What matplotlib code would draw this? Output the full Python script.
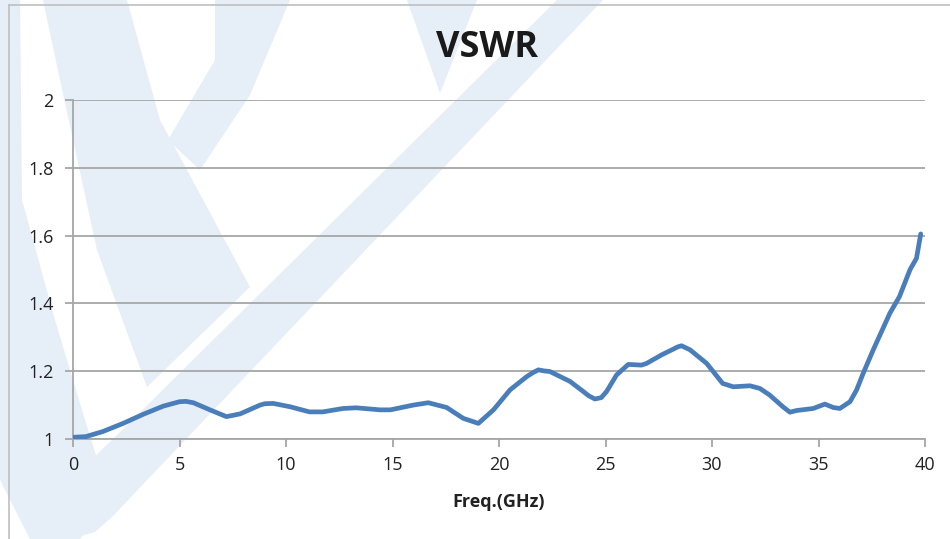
import matplotlib.pyplot as plt
from matplotlib.patches import Polygon
from matplotlib.lines import Line2D

# -----------------------------
# Data
# -----------------------------
freq = [0, 0.6, 1.4, 2.35, 3.3, 4.24, 5.0, 5.3, 5.65, 6.43, 7.2, 7.84,
        8.78, 9.0, 9.4, 10.2, 11.1, 11.73, 12.67, 13.3, 14.41, 14.9, 15.97,
        16.68, 17.54, 18.32, 19.03, 19.74, 20.52, 21.3, 21.6, 21.85, 22.1,
        22.39, 23.33, 23.96, 24.2, 24.5, 24.8, 25.05, 25.52, 26.07, 26.69,
        26.93, 27.63, 28.18, 28.4, 28.57, 28.97, 29.75, 30.5, 31.0, 31.78,
        32.25, 32.7, 33.33, 33.66, 33.97, 34.75, 35.3, 35.69, 36.0, 36.48,
        36.79, 37.1, 37.57, 38.35, 38.8, 39.3, 39.6, 39.8]
vswr = [1.005, 1.007, 1.022, 1.046, 1.073, 1.097, 1.11, 1.111, 1.107,
        1.086, 1.066, 1.074, 1.10, 1.104, 1.105, 1.095, 1.08, 1.08, 1.09,
        1.092, 1.086, 1.086, 1.10, 1.107, 1.093, 1.061, 1.046, 1.086, 1.145,
        1.184, 1.196, 1.204, 1.201, 1.199, 1.17, 1.14, 1.128, 1.118, 1.122,
        1.14, 1.189, 1.22, 1.218, 1.223, 1.248, 1.265, 1.272, 1.275, 1.263,
        1.223, 1.164, 1.154, 1.157, 1.149, 1.13, 1.095, 1.079, 1.084, 1.09,
        1.103, 1.093, 1.09, 1.11, 1.145, 1.194, 1.263, 1.371, 1.42, 1.5,
        1.533, 1.605]

x_ticks = [0, 5, 10, 15, 20, 25, 30, 35, 40]
y_ticks = [1, 1.2, 1.4, 1.6, 1.8, 2]
y_tick_labels = ["1", "1.2", "1.4", "1.6", "1.8", "2"]

# -----------------------------
# Figure
# -----------------------------
W, H = 950, 539
fig = plt.figure(figsize=(9.5, 5.39), dpi=100)
plt.rcParams['font.family'] = ['Open Sans', 'DejaVu Sans']


def px(pts):
    # pixel coords (from top-left) -> figure fraction
    return [(x / W, 1 - y / H) for x, y in pts]


# faint logo watermark in the background
wm_color = '#e6eef7'
watermark = [
    # long diagonal band with rounded bottom
    [(557, 0), (603, 0), (112, 517), (95, 532), (70, 539), (35, 539),
     (20, 520), (60, 490), (113, 439)],
    # left arm
    [(0, 0), (20, 0), (22, 200), (55, 320), (85, 420), (110, 500),
     (80, 539), (30, 539), (0, 480)],
    # stem of the P
    [(43, 0), (127, 0), (160, 120), (250, 287), (147, 387), (97, 250),
     (60, 80)],
    # bowl of the P
    [(215, 0), (290, 0), (250, 95), (200, 170), (168, 140), (215, 60)],
    # small wedge near the title
    [(407, 0), (477, 0), (440, 93)],
]
for poly in watermark:
    fig.patches.append(Polygon(px(poly), closed=True, transform=fig.transFigure,
                               facecolor=wm_color, edgecolor='none', zorder=-2))

# chart area border
fig.add_artist(Line2D([9 / W, 1], [1 - 5 / H, 1 - 5 / H], color='#bfbfbf',
                      lw=1.2, zorder=-1))
fig.add_artist(Line2D([9 / W, 9 / W], [0, 1 - 5 / H], color='#bfbfbf',
                      lw=1.2, zorder=-1))

ax = fig.add_axes([73 / W, 100 / H, 852 / W, 339 / H])
ax.patch.set_alpha(0)

ax.plot(freq, vswr, color='#4a7ebb', lw=3.4, solid_joinstyle='round',
        solid_capstyle='round', zorder=3)

ax.set_xlim(0, 40)
ax.set_ylim(1, 2)
ax.set_xticks(x_ticks)
ax.set_yticks(y_ticks)
ax.set_yticklabels(y_tick_labels)

ax.grid(axis='y', color='#a6a6a6', lw=1.3)
ax.set_axisbelow(True)
for s in ['top', 'right']:
    ax.spines[s].set_visible(False)
for s in ['left', 'bottom']:
    ax.spines[s].set_color('#a6a6a6')
    ax.spines[s].set_linewidth(1.3)

ax.tick_params(axis='both', colors='#a6a6a6', width=1.3, length=6,
               labelcolor='#222222', labelsize=13)
ax.tick_params(axis='x', pad=6)
ax.tick_params(axis='y', pad=8)

ax.set_xlabel("Freq.(GHz)", fontsize=13, fontweight='bold', labelpad=14,
              color='#222222')
fig.text(487 / W, 1 - 48 / H, "VSWR", ha='center', va='center',
         fontsize=26, fontweight='bold', color='#1a1a1a')

plt.savefig("out.png", dpi=100)
